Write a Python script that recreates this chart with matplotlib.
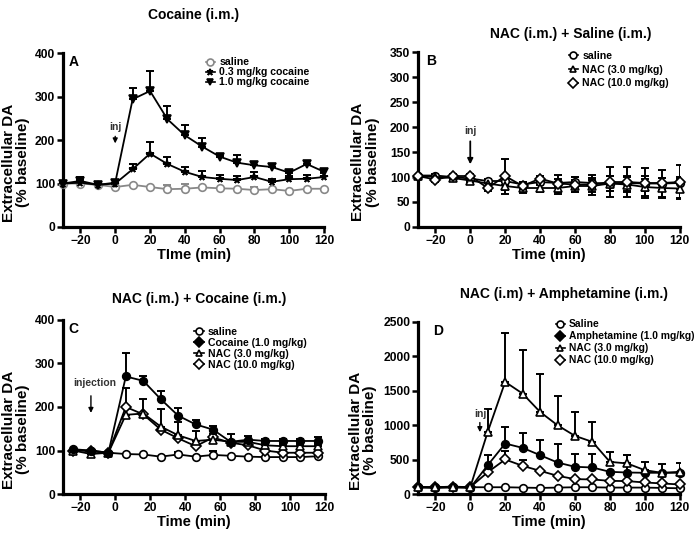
import numpy as np
import matplotlib
matplotlib.use("Agg")
import matplotlib.pyplot as plt
from matplotlib.lines import Line2D

plt.rcParams['font.family'] = ['Liberation Sans', 'DejaVu Sans']
plt.rcParams['font.weight'] = 'bold'

# ---------------- Panel A data ----------------
tA = [-30, -20, -10, 0, 10, 20, 30, 40, 50, 60, 70, 80, 90, 100, 110, 120]
A_saline = [100, 100, 97, 92, 97, 92, 87, 88, 91, 89, 88, 85, 87, 83, 88, 88]
A_saline_err = [0, 0, 0, 0, 0, 0, 10, 10, 0, 0, 0, 8, 0, 0, 0, 0]
A_low = [100, 102, 97, 100, 133, 169, 145, 127, 115, 111, 108, 115, 104, 110, 111, 115]
A_low_err = [0, 8, 0, 0, 13, 27, 17, 11, 14, 8, 9, 12, 6, 8, 9, 10]
A_high = [100, 106, 97, 102, 294, 313, 248, 211, 185, 162, 148, 142, 138, 125, 145, 127]
A_high_err = [0, 10, 6, 0, 26, 47, 30, 24, 20, 4, 17, 8, 8, 4, 6, 4]
A_labels = ['saline', '0.3 mg/kg cocaine', '1.0 mg/kg cocaine']

# ---------------- Panel B data ----------------
tB = [-30, -20, -10, 0, 10, 20, 30, 40, 50, 60, 70, 80, 90, 100, 110, 120]
B_saline = [103, 103, 100, 97, 92, 92, 85, 90, 88, 90, 88, 87, 88, 87, 87, 88]
B_saline_err = [3, 3, 5, 4, 4, 8, 6, 5, 8, 10, 10, 15, 15, 15, 12, 12]
B_nac3 = [103, 100, 98, 93, 87, 82, 78, 78, 78, 82, 82, 87, 85, 80, 78, 77]
B_nac3_err = [3, 5, 6, 5, 6, 8, 10, 8, 12, 12, 12, 15, 15, 17, 20, 20]
B_nac10 = [102, 95, 102, 102, 78, 102, 82, 97, 87, 85, 85, 90, 90, 88, 88, 90]
B_nac10_err = [3, 4, 5, 4, 5, 35, 6, 5, 17, 15, 20, 30, 30, 30, 27, 35]
B_labels = ['saline', 'NAC (3.0 mg/kg)', 'NAC (10.0 mg/kg)']

# ---------------- Panel C data ----------------
tC = [-24, -14, -4, 6, 16, 26, 36, 46, 56, 66, 76, 86, 96, 106, 116]
C_saline = [102, 98, 95, 92, 91, 86, 91, 86, 90, 88, 86, 85, 85, 85, 87]
C_saline_err = [0, 0, 0, 0, 0, 0, 6, 0, 8, 0, 0, 0, 0, 0, 0]
C_coc = [103, 100, 95, 270, 260, 218, 180, 160, 148, 120, 125, 122, 122, 122, 122]
C_coc_err = [0, 0, 0, 55, 10, 18, 18, 10, 8, 18, 8, 4, 4, 4, 10]
C_nac3 = [100, 92, 95, 182, 185, 155, 135, 122, 125, 120, 120, 112, 110, 110, 110]
C_nac3_err = [0, 0, 0, 62, 33, 40, 30, 22, 14, 0, 4, 4, 4, 4, 4]
C_nac10 = [100, 100, 95, 200, 183, 148, 128, 110, 130, 118, 112, 100, 95, 95, 95]
C_nac10_err = [0, 0, 0, 0, 0, 0, 0, 0, 0, 0, 0, 0, 0, 0, 0]
C_labels = ['saline', 'Cocaine (1.0 mg/kg)', 'NAC (3.0 mg/kg)', 'NAC (10.0 mg/kg)']

# ---------------- Panel D data ----------------
tD = [-30, -20, -10, 0, 10, 20, 30, 40, 50, 60, 70, 80, 90, 100, 110, 120]
D_saline = [100, 100, 100, 100, 100, 100, 95, 90, 95, 100, 100, 95, 95, 95, 90, 85]
D_saline_err = [0] * 16
D_amph = [100, 90, 100, 90, 420, 735, 672, 566, 459, 397, 387, 324, 314, 310, 310, 310]
D_amph_err = [0, 0, 0, 0, 145, 242, 218, 227, 276, 193, 203, 0, 251, 0, 0, 0]
D_nac3 = [100, 100, 110, 100, 904, 1630, 1460, 1194, 1000, 846, 759, 469, 445, 348, 309, 324]
D_nac3_err = [0, 0, 0, 0, 339, 715, 629, 547, 422, 348, 290, 145, 121, 121, 126, 131]
D_nac10 = [100, 100, 100, 100, 318, 503, 411, 338, 266, 218, 213, 193, 189, 169, 155, 140]
D_nac10_err = [0, 0, 0, 0, 0, 120, 80, 0, 0, 0, 0, 0, 0, 0, 0, 0]
D_labels = ['Saline', 'Amphetamine (1.0 mg/kg)', 'NAC (3.0 mg/kg)', 'NAC (10.0 mg/kg)']

fig = plt.figure(figsize=(7.0, 5.43), dpi=100)

axA = fig.add_axes([0.090, 0.582, 0.373, 0.320])
axB = fig.add_axes([0.597, 0.582, 0.374, 0.322])
axC = fig.add_axes([0.090, 0.090, 0.374, 0.321])
axD = fig.add_axes([0.597, 0.090, 0.374, 0.317])

LW = 1.3
MS = 5.5


def style(ax, ylim, yticks, xlabel, labx=-0.125):
    ax.set_xlim(-30, 120)
    ax.set_ylim(*ylim)
    ax.set_xticks([-20, 0, 20, 40, 60, 80, 100, 120])
    ax.set_yticks(yticks)
    for s in ['top', 'right']:
        ax.spines[s].set_visible(False)
    for s in ['left', 'bottom']:
        ax.spines[s].set_linewidth(2.3)
    ax.tick_params(width=1.8, length=4, labelsize=8.7, direction='out', pad=1.5)
    for lab in ax.get_xticklabels() + ax.get_yticklabels():
        lab.set_fontweight('bold')
    ax.set_xlabel(xlabel, fontsize=10.5, fontweight='bold', labelpad=1)
    ax.set_ylabel('Extracellular DA\n(% baseline)', fontsize=11, fontweight='bold',
                  linespacing=1.05)
    ax.yaxis.set_label_coords(labx, 0.37)


def series(ax, t, y, err, marker, mfc, color='black', lower=None, zorder=3):
    err = np.asarray(err, dtype=float)
    lo = np.zeros_like(err) if lower is None else np.asarray(lower, dtype=float)
    ax.errorbar(t, y, yerr=[lo, err], fmt='none', ecolor=color, elinewidth=1.4,
                capsize=3.2, capthick=1.4, zorder=zorder - 1)
    ax.plot(t, y, color=color, lw=LW, marker=marker, ms=MS, mfc=mfc,
            mec=color, mew=1.2, zorder=zorder, clip_on=False)


def legend(ax, handles, labels, bbox, fs=7.6, ls=0.2):
    leg = ax.legend(handles, labels, loc='upper left', bbox_to_anchor=bbox,
                    frameon=False, fontsize=fs, handlelength=0.9,
                    handletextpad=0.4, labelspacing=ls, borderaxespad=0)
    for t in leg.get_texts():
        t.set_fontweight('bold')


def h(marker, mfc, color='black'):
    return Line2D([0], [0], color=color, lw=1.2, marker=marker, ms=5, mfc=mfc,
                  mec=color, mew=1.2)


# ---------- A ----------
grey = '#888888'
series(axA, tA, A_saline, A_saline_err, 'o', 'white', color=grey)
series(axA, tA, A_low, A_low_err, '*', 'black')
series(axA, tA, A_high, A_high_err, 'v', 'black')
style(axA, (0, 400), [0, 100, 200, 300, 400], 'TIme (min)')
legend(axA, [h('o', 'white', grey), h('*', 'black'), h('v', 'black')], A_labels,
       (0.53, 1.0), fs=7.6, ls=0.0)
axA.text(0.02, 0.99, 'A', transform=axA.transAxes, fontsize=10, fontweight='bold',
         va='top', ha='left')
axA.annotate('', xy=(0, 186), xytext=(0, 215),
             arrowprops=dict(arrowstyle='-|>', color='black', lw=1.0,
                             mutation_scale=7))
axA.text(0, 218, 'inj', ha='center', va='bottom', fontsize=7.5, fontweight='bold',
         color='#333333')
fig.text(0.277, 0.972, 'Cocaine (i.m.)', ha='center', va='center', fontsize=10,
         fontweight='bold')

# ---------- B ----------
series(axB, tB, B_saline, B_saline_err, 'o', 'white', lower=B_saline_err)
series(axB, tB, B_nac3, B_nac3_err, '^', 'white', lower=B_nac3_err)
series(axB, tB, B_nac10, B_nac10_err, 'D', 'white', lower=B_nac10_err)
style(axB, (0, 350), [0, 50, 100, 150, 200, 250, 300, 350], 'Time (min)', labx=-0.145)
legend(axB, [h('o', 'white'), h('^', 'white'), h('D', 'white')], B_labels,
       (0.56, 1.03), fs=7.6, ls=0.35)
axB.text(0.03, 0.99, 'B', transform=axB.transAxes, fontsize=10, fontweight='bold',
         va='top', ha='left')
axB.annotate('', xy=(0, 120), xytext=(0, 177),
             arrowprops=dict(arrowstyle='-|>', color='black', lw=1.3,
                             mutation_scale=8))
axB.text(0, 183, 'inj', ha='center', va='bottom', fontsize=7.5, fontweight='bold',
         color='#333333')
fig.text(0.815, 0.938, 'NAC (i.m.) + Saline (i.m.)', ha='center',
         va='center', fontsize=10, fontweight='bold')

# ---------- C ----------
series(axC, tC, C_saline, C_saline_err, 'o', 'white')
series(axC, tC, C_nac10, C_nac10_err, 'D', 'white')
series(axC, tC, C_nac3, C_nac3_err, '^', 'white')
series(axC, tC, C_coc, C_coc_err, 'o', 'black')
style(axC, (0, 400), [0, 100, 200, 300, 400], 'Time (min)')
legend(axC, [h('o', 'white'), h('D', 'black'), h('^', 'white'), h('D', 'white')],
       C_labels, (0.485, 0.985), fs=7.6, ls=0.1)
axC.text(0.02, 0.99, 'C', transform=axC.transAxes, fontsize=10, fontweight='bold',
         va='top', ha='left')
axC.annotate('', xy=(-14, 180), xytext=(-14, 232),
             arrowprops=dict(arrowstyle='-|>', color='black', lw=1.0,
                             mutation_scale=7))
axC.text(-12, 244, 'injection', ha='center', va='bottom', fontsize=7.5,
         fontweight='bold', color='#333333')
fig.text(0.284, 0.449, 'NAC (i.m.) + Cocaine (i.m.)', ha='center', va='center',
         fontsize=10, fontweight='bold')

# ---------- D ----------
series(axD, tD, D_saline, D_saline_err, 'o', 'white')
series(axD, tD, D_nac10, D_nac10_err, 'D', 'white')
series(axD, tD, D_amph, D_amph_err, 'o', 'black')
series(axD, tD, D_nac3, D_nac3_err, '^', 'white')
style(axD, (0, 2500), [0, 500, 1000, 1500, 2000, 2500], 'Time (min)', labx=-0.155)
legend(axD, [h('o', 'white'), h('D', 'black'), h('^', 'white'), h('D', 'white')],
       D_labels, (0.51, 1.04), fs=7.4, ls=0.2)
axD.text(0.06, 0.99, 'D', transform=axD.transAxes, fontsize=10, fontweight='bold',
         va='top', ha='left')
axD.annotate('', xy=(5.5, 860), xytext=(5.5, 1080),
             arrowprops=dict(arrowstyle='-|>', color='black', lw=1.0,
                             mutation_scale=7))
axD.text(6, 1090, 'inj', ha='center', va='bottom', fontsize=7.5, fontweight='bold',
         color='#333333')
fig.text(0.805, 0.459, 'NAC (i.m) + Amphetamine (i.m.)', ha='center', va='center',
         fontsize=10, fontweight='bold')

fig.savefig('out.png', dpi=100)
